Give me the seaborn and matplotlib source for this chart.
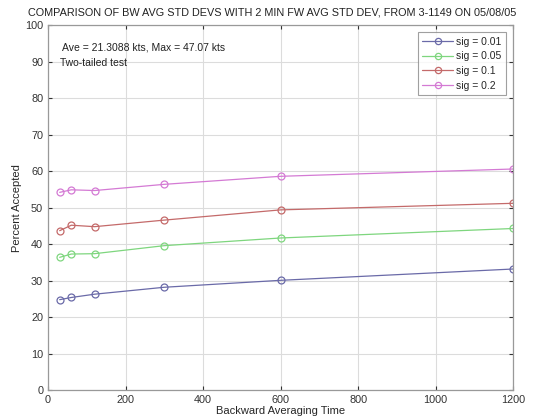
import pandas as pd
import numpy as np
import matplotlib.pyplot as plt
import seaborn as sns

# Values
avg_time = [30, 60, 120, 300, 600, 1200]
sig_labels = ['sig = 0.01', 'sig = 0.05', 'sig = 0.1', 'sig = 0.2']
sig_001 = [24.8, 25.4, 26.3, 28.2, 30.1, 33.2]
sig_005 = [36.4, 37.3, 37.4, 39.6, 41.7, 44.3]
sig_01 = [43.7, 45.2, 44.8, 46.6, 49.4, 51.2]
sig_02 = [54.2, 54.9, 54.7, 56.4, 58.6, 60.6]
colors = ['#6a6aa8', '#7ed67e', '#c46a6a', '#d47ad4']

df = pd.DataFrame({
    'time': avg_time * 4,
    'pct': sig_001 + sig_005 + sig_01 + sig_02,
    'sig': np.repeat(sig_labels, len(avg_time)),
})

sns.set_style('white')
plt.rcParams['font.family'] = ['Liberation Sans', 'DejaVu Sans']

fig = plt.figure(figsize=(5.34, 4.2), dpi=100)
ax = fig.add_axes([0.09, 0.071, 0.871, 0.869])

sns.lineplot(data=df, x='time', y='pct', hue='sig', palette=colors,
             marker='o', markersize=5, markerfacecolor='none',
             markeredgewidth=0.9, linewidth=0.9, ax=ax)

for line, c in zip(ax.get_lines(), colors):
    line.set_markeredgecolor(c)

ax.set_xlim(0, 1200)
ax.set_ylim(0, 100)
ax.set_xticks(range(0, 1201, 200))
ax.set_yticks(range(0, 101, 10))
ax.grid(True, color='#dcdcdc', linewidth=0.8)
ax.tick_params(direction='in', length=3, labelsize=7.8, colors='#333333',
               right=True, top=True, left=True, bottom=True,
               labelright=False, labeltop=False)
for s in ax.spines.values():
    s.set_color('#999999')
    s.set_linewidth(0.9)

ax.set_xlabel('Backward Averaging Time', fontsize=8, labelpad=1)
ax.set_ylabel('Percent Accepted', fontsize=8, labelpad=2)
fig.text(0.51, 0.97, 'COMPARISON OF BW AVG STD DEVS WITH 2 MIN FW AVG STD DEV, FROM 3-1149 ON 05/08/05',
         ha='center', va='center', fontsize=7.8, color='#222222')

ax.text(35, 94, 'Ave = 21.3088 kts, Max = 47.07 kts', fontsize=7.5, va='center', color='#222222')
ax.text(30, 89.6, 'Two-tailed test', fontsize=7.5, va='center', color='#222222')

leg = ax.legend(loc='upper right', fontsize=7.5, frameon=True, fancybox=False,
                borderpad=0.4, labelspacing=0.45, handlelength=3.0,
                handletextpad=0.3, borderaxespad=0.7)
leg.get_frame().set_edgecolor('#888888')
leg.get_frame().set_linewidth(0.8)
for h, c in zip(leg.legend_handles, colors):
    h.set_markerfacecolor('none')
    h.set_markeredgecolor(c)
    h.set_markersize(4.5)

fig.savefig('out.png', dpi=100)
